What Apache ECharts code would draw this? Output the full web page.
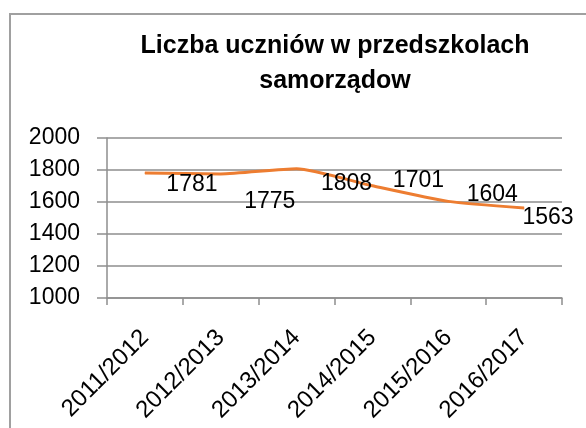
<!DOCTYPE html>
<html>
<head>
<meta charset="utf-8">
<script src="https://cdn.jsdelivr.net/npm/echarts@6/dist/echarts.min.js"></script>
<style>
  html, body { margin: 0; padding: 0; background: #fff; }
  #chart { width: 586px; height: 428px; }
</style>
</head>
<body>
<div id="chart"></div>
<script>
var years = ['2011/2012', '2012/2013', '2013/2014', '2014/2015', '2015/2016', '2016/2017'];
var pupils = [1781, 1775, 1808, 1701, 1604, 1563];
var titleText = 'Liczba uczniów w przedszkolach\nsamorządow';

// where Excel put each data label, relative to its point
var labelShift = [[47, 12], [49, 28], [50, 15], [46, -5], [44, -7], [24, 10]];

var chartDom = document.getElementById('chart');
var myChart = echarts.init(chartDom);

var font = 'Liberation Sans, Arial, sans-serif';
var gridColor = '#8e8e8e';

var points = pupils.map(function (v, i) {
    return {
        value: v,
        label: { offset: labelShift[i] }
    };
});

var option = {
    animation: false,
    backgroundColor: '#fff',
    graphic: [
        {
            type: 'rect',
            shape: { x: 10, y: 14, width: 700, height: 600 },
            style: { fill: 'none', stroke: '#a0a0a0', lineWidth: 2 }
        },
        {
            type: 'text',
            x: 335,
            y: 29,
            style: {
                text: titleText,
                font: 'bold 25px Liberation Sans, Arial, sans-serif',
                fill: '#000',
                align: 'center',
                verticalAlign: 'top',
                lineHeight: 35
            }
        }
    ],
    grid: {
        left: 107,
        right: 24,
        top: 138,
        bottom: 130
    },
    xAxis: {
        type: 'category',
        data: years,
        boundaryGap: true,
        axisLine: { lineStyle: { color: gridColor, width: 1.5 } },
        axisTick: { show: true, length: 7, lineStyle: { color: gridColor, width: 1.5 } },
        axisLabel: {
            rotate: 45,
            margin: 36,
            fontFamily: font,
            fontSize: 24,
            color: '#000',
            interval: 0
        }
    },
    yAxis: {
        type: 'value',
        min: 1000,
        max: 2000,
        interval: 200,
        axisLine: { show: true, lineStyle: { color: gridColor, width: 1.5 } },
        axisTick: { show: true, length: 10, lineStyle: { color: gridColor, width: 1.5 } },
        splitLine: { lineStyle: { color: gridColor, width: 1.5 } },
        axisLabel: {
            margin: 27,
            fontFamily: font,
            fontSize: 23,
            color: '#000',
            formatter: function (v) { return String(v); }
        }
    },
    series: [
        {
            name: 'Liczba uczniów',
            type: 'line',
            data: points,
            smooth: 0.2,
            symbol: 'circle',
            symbolSize: 1,
            itemStyle: { color: '#ED7D31' },
            lineStyle: { color: '#ED7D31', width: 3 },
            label: {
                show: true,
                position: 'inside',
                fontFamily: font,
                fontSize: 23,
                color: '#000'
            }
        }
    ]
};

myChart.setOption(option);
</script>
</body>
</html>
